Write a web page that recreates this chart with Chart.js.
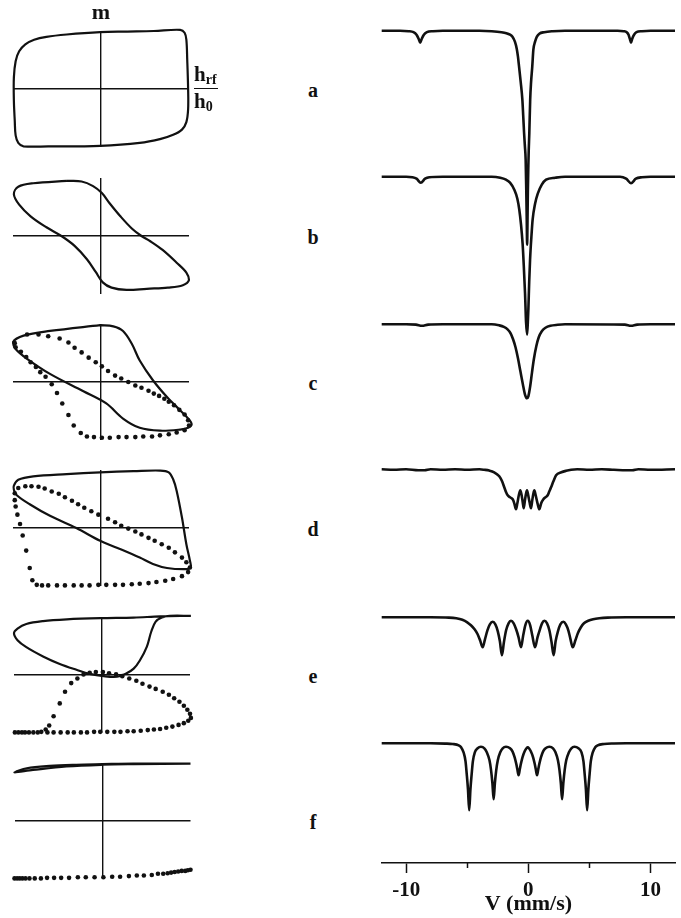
<!DOCTYPE html>
<html>
<head>
<meta charset="utf-8">
<script src="https://cdn.jsdelivr.net/npm/chart.js@4.4.1/dist/chart.umd.min.js"></script>
<style>
  html, body { margin: 0; padding: 0; background: #fff; }
  #fig { position: relative; width: 681px; height: 918px; overflow: hidden;
         font-family: 'Liberation Serif', 'Times New Roman', serif; color: #111; }
  #fig canvas { position: absolute; }
  .lbl { position: absolute; transform: translate(-50%, -50%); line-height: 1; white-space: nowrap; }
  .panel-letter { font-size: 20px; font-weight: bold; }
  .m-label { font-size: 22px; font-weight: bold; }
  .frac { position: absolute; font-size: 21px; font-weight: bold; line-height: 1; }
  .frac .num { display: block; border-bottom: 1.5px solid #111; padding: 0 1px 1px 0; }
  .frac .den { display: block; padding-top: 2px; }
  .frac sub { font-size: 14px; vertical-align: -3px; }
</style>
</head>
<body>
<div id="fig"></div>
<script>
// ---------- hysteresis loops: reduced field h_rf/h0 (x) vs reduced moment m (y) ----------
const loopA = [[0.30,0.99],[-0.01,0.98],[-0.39,0.94],[-0.62,0.90],[-0.76,0.85],[-0.86,0.77],[-0.93,0.65],[-0.97,0.48],[-0.99,0.2],[-0.99,-0.2],[-0.98,-0.55],[-0.97,-0.80],[-0.94,-0.93],[-0.88,-0.99],[-0.6,-0.99],[-0.01,-0.98],[0.44,-0.93],[0.68,-0.86],[0.82,-0.79],[0.92,-0.70],[0.97,-0.57],[0.99,-0.35],[0.99,0],[0.98,0.5],[0.97,0.85],[0.95,0.97],[0.90,1.02],[0.6,1.0],[0.30,0.99]];

const loopB = [[-0.39,0.95],[-0.77,0.91],[-0.94,0.85],[-0.99,0.72],[-0.93,0.54],[-0.80,0.34],[-0.62,0.15],[-0.45,0.0],[-0.30,-0.17],[-0.16,-0.40],[-0.06,-0.62],[0.02,-0.80],[0.12,-0.89],[0.29,-0.93],[0.52,-0.91],[0.76,-0.89],[0.93,-0.85],[1.0,-0.76],[0.97,-0.63],[0.86,-0.46],[0.70,-0.24],[0.56,-0.09],[0.46,0.0],[0.35,0.13],[0.22,0.34],[0.10,0.56],[0.01,0.74],[-0.09,0.86],[-0.22,0.94],[-0.39,0.95]];

const loopC = [[-0.01,0.98],[-0.58,0.88],[-0.88,0.80],[-1.0,0.69],[-0.97,0.57],[-0.84,0.40],[-0.58,0.14],[-0.20,-0.16],[0.06,-0.37],[0.25,-0.63],[0.44,-0.79],[0.67,-0.84],[0.90,-0.82],[0.99,-0.79],[1.03,-0.73],[0.99,-0.63],[0.90,-0.49],[0.75,-0.26],[0.59,0.03],[0.44,0.37],[0.35,0.66],[0.25,0.88],[0.14,0.96],[-0.01,0.98]];

const dotsC = [[-0.98,0.67],[-0.84,0.82],[-0.71,0.82],[-0.60,0.79],[-0.47,0.75],[-0.37,0.68],[-0.30,0.59],[-0.22,0.51],[-0.14,0.42],[-0.06,0.34],[0.01,0.27],[0.08,0.19],[0.16,0.11],[0.23,0.06],[0.31,0.0],[0.39,-0.06],[0.46,-0.10],[0.54,-0.15],[0.60,-0.20],[0.66,-0.24],[0.72,-0.29],[0.77,-0.34],[0.83,-0.40],[0.89,-0.48],[0.95,-0.56],[0.99,-0.66],[1.0,-0.75],[0.95,-0.83],[0.86,-0.87],[0.77,-0.90],[0.67,-0.92],[0.58,-0.94],[0.48,-0.94],[0.39,-0.95],[0.29,-0.95],[0.20,-0.95],[0.10,-0.96],[0.01,-0.96],[-0.08,-0.95],[-0.16,-0.94],[-0.23,-0.88],[-0.31,-0.75],[-0.37,-0.57],[-0.44,-0.37],[-0.50,-0.19],[-0.56,-0.04],[-0.63,0.09],[-0.69,0.17],[-0.74,0.26],[-0.80,0.34],[-0.85,0.43],[-0.91,0.52],[-0.97,0.60]];

const loopD = [[-0.01,0.96],[-0.39,0.93],[-0.77,0.89],[-0.94,0.83],[-0.99,0.73],[-0.99,0.66],[-0.96,0.57],[-0.81,0.41],[-0.58,0.21],[-0.28,0],[-0.01,-0.22],[0.18,-0.34],[0.44,-0.51],[0.59,-0.62],[0.75,-0.69],[0.97,-0.71],[1.02,-0.68],[1.01,-0.56],[0.97,-0.28],[0.92,0.18],[0.86,0.64],[0.82,0.84],[0.77,0.96],[0.67,0.99],[0.37,0.98],[-0.01,0.96]];

const dotsD = [[-0.98,0.60],[-0.94,0.69],[-0.86,0.72],[-0.79,0.72],[-0.71,0.71],[-0.64,0.68],[-0.56,0.63],[-0.48,0.59],[-0.41,0.53],[-0.33,0.47],[-0.26,0.41],[-0.19,0.35],[-0.11,0.29],[-0.03,0.23],[0.08,0.16],[0.16,0.10],[0.23,0.04],[0.31,-0.01],[0.39,-0.06],[0.46,-0.11],[0.54,-0.17],[0.61,-0.22],[0.69,-0.28],[0.77,-0.34],[0.84,-0.42],[0.92,-0.51],[0.97,-0.59],[1.01,-0.68],[0.99,-0.76],[0.92,-0.83],[0.82,-0.88],[0.73,-0.91],[0.63,-0.93],[0.54,-0.95],[0.44,-0.96],[0.35,-0.97],[0.25,-0.98],[0.16,-0.98],[0.06,-0.98],[-0.03,-0.98],[-0.13,-0.99],[-0.22,-0.99],[-0.31,-0.99],[-0.41,-0.99],[-0.50,-0.99],[-0.60,-0.99],[-0.67,-0.99],[-0.73,-0.98],[-0.78,-0.90],[-0.81,-0.69],[-0.85,-0.39],[-0.89,-0.13],[-0.92,0.07],[-0.95,0.23],[-0.97,0.37],[-0.98,0.48]];

const loopE = [[1.01,1.02],[0.66,1.01],[0.36,0.99],[-0.02,0.98],[-0.40,0.96],[-0.67,0.93],[-0.86,0.88],[-0.96,0.80],[-1.0,0.72],[-0.96,0.60],[-0.86,0.48],[-0.67,0.32],[-0.48,0.19],[-0.29,0.09],[-0.14,0.02],[0.02,-0.02],[0.17,-0.03],[0.27,0.02],[0.36,0.11],[0.43,0.25],[0.51,0.49],[0.56,0.75],[0.61,0.92],[0.68,0.99],[0.77,1.02],[1.01,1.02]];

const dotsE = [[-0.99,-0.99],[-0.95,-0.99],[-0.91,-0.99],[-0.875,-0.99],[-0.83,-0.99],[-0.78,-0.99],[-0.73,-0.99],[-0.69,-0.98],[-0.64,-0.94],[-0.60,-0.87],[-0.55,-0.71],[-0.48,-0.49],[-0.42,-0.29],[-0.35,-0.14],[-0.28,-0.06],[-0.21,0.01],[-0.14,0.04],[-0.07,0.05],[0.01,0.05],[0.08,0.03],[0.16,0.01],[0.23,-0.02],[0.31,-0.06],[0.39,-0.10],[0.46,-0.15],[0.54,-0.20],[0.61,-0.24],[0.69,-0.29],[0.76,-0.34],[0.82,-0.40],[0.88,-0.46],[0.93,-0.53],[0.97,-0.60],[1.0,-0.67],[1.01,-0.74],[0.98,-0.79],[0.93,-0.83],[0.87,-0.86],[0.80,-0.89],[0.73,-0.91],[0.66,-0.93],[0.59,-0.94],[0.52,-0.95],[0.44,-0.96],[0.36,-0.97],[0.29,-0.97],[0.21,-0.98],[0.14,-0.98],[0.06,-0.98],[-0.02,-0.98],[-0.09,-0.98],[-0.17,-0.99],[-0.24,-0.99],[-0.32,-0.99],[-0.39,-0.99],[-0.47,-0.99],[-0.55,-0.99],[-0.62,-0.99]];

const loopF = [[1.0,0.99],[0.35,0.99],[0,0.98],[-0.30,0.97],[-0.60,0.95],[-0.86,0.91],[-1.0,0.84],[-0.79,0.88],[-0.41,0.94],[0,0.97],[0.35,0.98],[1.0,0.99]];

const dotsF = [[-1.0,-0.99],[-0.97,-0.99],[-0.94,-0.99],[-0.91,-0.99],[-0.875,-0.99],[-0.83,-0.99],[-0.77,-0.99],[-0.70,-0.99],[-0.63,-0.98],[-0.55,-0.98],[-0.47,-0.98],[-0.38,-0.98],[-0.28,-0.97],[-0.19,-0.97],[-0.09,-0.97],[0.01,-0.97],[0.11,-0.96],[0.20,-0.96],[0.30,-0.95],[0.39,-0.94],[0.47,-0.94],[0.56,-0.93],[0.63,-0.91],[0.69,-0.91],[0.74,-0.90],[0.78,-0.89],[0.82,-0.88],[0.86,-0.87],[0.90,-0.86],[0.94,-0.86],[0.97,-0.85],[1.0,-0.84]];

// ---------- Mössbauer spectra: velocity (mm/s) vs absorption (arb. units) ----------
const spectrumA = [[-12,0],[-10.5,0],[-9.8,0.5],[-9.4,1.5],[-9.15,4],[-8.98,8],[-8.85,12],[-8.72,8],[-8.55,4],[-8.3,1.5],[-7.8,0.5],[-7,0],[-4,0],[-3,0.5],[-2.2,1.5],[-1.8,2.5],[-1.5,4],[-1.3,6],[-1.1,11],[-0.95,18],[-0.85,26],[-0.76,36],[-0.62,52],[-0.49,69],[-0.42,85],[-0.35,102],[-0.28,116],[-0.22,129],[-0.17,160],[-0.13,190],[-0.1,214],[-0.07,190],[-0.04,160],[0.0,135],[0.03,120],[0.08,102],[0.15,69],[0.22,52],[0.32,36],[0.41,19],[0.55,11],[0.7,6],[0.9,3],[1.3,1.5],[2,0.5],[3,0],[7.3,0],[7.8,0.5],[8.05,1.5],[8.2,4],[8.3,8],[8.4,12],[8.5,8],[8.65,4],[8.85,1.5],[9.3,0.5],[10,0],[12,0]];

const spectrumB = [[-12,0],[-10,0],[-9.5,0.5],[-9.15,2],[-8.8,6],[-8.45,2],[-8.1,0.5],[-7,0],[-3,0],[-2.3,1],[-1.83,3],[-1.5,6],[-1.15,13],[-0.9,22],[-0.74,33],[-0.6,48],[-0.47,67],[-0.37,90],[-0.27,117],[-0.19,145],[-0.1,158],[-0.03,142],[0.0,133],[0.07,105],[0.14,83],[0.25,60],[0.35,43],[0.55,27],[0.77,17],[1.1,8],[1.45,3],[2.2,1],[3,0],[7.5,0],[8.0,2],[8.4,6.5],[8.8,2],[9.3,0.5],[10,0],[12,0]];

const spectrumC = [[-12,0],[-10,0],[-9.2,0.3],[-8.7,1.5],[-8.2,0.3],[-7,0],[-3,0],[-2.4,1],[-2.0,2.5],[-1.7,5],[-1.45,9],[-1.25,15],[-1.05,23],[-0.85,34],[-0.65,47],[-0.45,60],[-0.28,70],[-0.12,74],[0.0,72],[0.15,62],[0.3,48],[0.45,35],[0.65,22],[0.85,13],[1.1,7],[1.4,3.5],[1.8,1.5],[2.4,0.5],[3,0],[7.9,0.3],[8.4,1.5],[8.9,0.3],[10,0],[12,0]];

const spectrumD = [[-12,0],[-11,0.5],[-10,0],[-9,1],[-8.5,1],[-8,0],[-7,0.5],[-6,0],[-5,0.5],[-4,0],[-3.6,0.5],[-3.2,1.3],[-2.8,3],[-2.38,7],[-2.15,12],[-1.97,18],[-1.82,23],[-1.69,26],[-1.5,28],[-1.28,30],[-1.15,34],[-1.01,40],[-0.9,34],[-0.78,26],[-0.66,21],[-0.55,26],[-0.46,33],[-0.38,39],[-0.28,31],[-0.2,25],[-0.11,21],[-0.01,26],[0.1,33],[0.22,39],[0.32,31],[0.4,25],[0.49,21],[0.6,26],[0.75,34],[0.9,40],[1.05,34],[1.23,30],[1.4,28],[1.58,26],[1.72,22],[1.86,18],[2.05,12],[2.27,6],[2.7,3],[3.09,1.5],[3.5,0.5],[4,0],[5,0.5],[6,0],[7,0.5],[8,1],[8.5,1],[9,0],[10,0.5],[12,0]];

const spectrumE = [[-12,0],[-8,0],[-6.5,0.3],[-5.9,1],[-5.4,2.5],[-5.0,5],[-4.7,8],[-4.4,12],[-4.15,17],[-3.95,23],[-3.74,30],[-3.55,22],[-3.35,13],[-3.15,7],[-2.92,4.5],[-2.7,7],[-2.5,14],[-2.33,24],[-2.16,38],[-2.0,25],[-1.82,13],[-1.62,6],[-1.42,3.5],[-1.2,6],[-1.0,12],[-0.8,20],[-0.6,30],[-0.42,18],[-0.25,8],[-0.05,3.5],[0.15,8],[0.32,18],[0.55,30],[0.75,20],[0.95,12],[1.12,6],[1.31,3.5],[1.53,6],[1.72,13],[1.9,25],[2.07,38],[2.23,24],[2.42,14],[2.62,7],[2.87,4.5],[3.07,7],[3.27,13],[3.45,22],[3.63,30],[3.85,23],[4.05,16],[4.3,10],[4.55,6],[4.9,3.5],[5.3,2],[5.8,1],[6.5,0.3],[8,0],[12,0]];

const spectrumF = [[-12,0],[-8,0],[-6.8,0.3],[-6.2,0.7],[-5.7,2],[-5.5,4],[-5.3,9],[-5.14,18],[-5.04,31],[-4.94,46],[-4.84,67],[-4.74,46],[-4.64,31],[-4.54,18],[-4.38,9],[-4.15,5],[-3.88,3.5],[-3.6,5],[-3.4,9],[-3.18,17],[-3.05,27],[-2.94,40],[-2.84,56],[-2.74,40],[-2.63,27],[-2.5,17],[-2.3,9],[-2.1,5],[-1.83,3.5],[-1.5,5],[-1.3,8],[-1.12,14],[-1.0,20],[-0.9,26],[-0.8,32],[-0.7,26],[-0.6,20],[-0.48,14],[-0.3,8],[-0.15,5],[-0.05,4],[0.05,5],[0.2,8],[0.39,14],[0.51,20],[0.61,26],[0.71,32],[0.81,26],[0.91,20],[1.03,14],[1.21,8],[1.41,5],[1.72,3.5],[2.02,5],[2.22,9],[2.42,17],[2.55,27],[2.66,40],[2.76,56],[2.86,40],[2.97,27],[3.1,17],[3.32,9],[3.52,5],[3.77,3.5],[4.1,5],[4.35,9],[4.51,18],[4.61,31],[4.71,46],[4.81,67],[4.91,46],[5.01,31],[5.11,18],[5.27,9],[5.47,4],[5.67,2],[6.2,0.7],[7,0.2],[8,0],[12,0]];

const panelLetters = ['a', 'b', 'c', 'd', 'e', 'f'];
const velocityTicks = [-10, 0, 10];
const velocityMinorTicks = [-5, 5];

// ---------- layout ----------
const INK = '#111';
const SERIF = "'Liberation Serif', 'Times New Roman', serif";
const LOOP_CX = [101, 101, 101, 101, 102, 102.5];       // pixel centre of each loop's axes
const LOOP_CY = [89, 236, 381.5, 527.5, 675, 821];
const LOOP_HALF_W = 88, LOOP_HALF_H = 58;
const SPEC_BASE = [832.3, 686.3, 538.7, 393.7, 245.7, 119.7]; // baseline of each trace on the stacked axis
const LETTER_X = 313;

const fig = document.getElementById('fig');

function addCanvas(left, top, w, h) {
  const c = document.createElement('canvas');
  c.width = w; c.height = h;
  c.style.left = left + 'px'; c.style.top = top + 'px';
  c.style.width = w + 'px'; c.style.height = h + 'px';
  fig.appendChild(c);
  return c;
}

function addLabel(cls, html, x, y) {
  const d = document.createElement('div');
  d.className = 'lbl ' + cls;
  d.innerHTML = html;
  d.style.left = x + 'px'; d.style.top = y + 'px';
  fig.appendChild(d);
  return d;
}

const toXY = arr => arr.map(([x, y]) => ({ x, y }));

// one axis line through zero, drawn as the single grid line of the scale
function zeroAxis() {
  return {
    type: 'linear', min: -1, max: 1,
    afterBuildTicks: a => { a.ticks = [{ value: 0 }]; },
    ticks: { display: false },
    border: { display: false },
    grid: { drawTicks: false, color: INK, lineWidth: 1.4 }
  };
}

function loopChart(i, solid, dots) {
  const W = 215, H = 150;
  const cx = LOOP_CX[i], cy = LOOP_CY[i];
  const canvas = addCanvas(0, cy - H / 2, W, H);
  const datasets = [];
  if (solid) datasets.push({
    data: toXY(solid), showLine: true, borderColor: INK, borderWidth: 2.2,
    pointRadius: 0, tension: 0.35, clip: false, fill: false
  });
  if (dots) datasets.push({
    data: toXY(dots), showLine: false, pointRadius: 2.3, pointStyle: 'circle',
    pointBackgroundColor: INK, pointBorderColor: INK, pointBorderWidth: 0, clip: false
  });
  new Chart(canvas, {
    type: 'scatter',
    data: { datasets },
    options: {
      responsive: false, animation: false, devicePixelRatio: 1, events: [],
      layout: { padding: { left: cx - LOOP_HALF_W, right: W - (cx + LOOP_HALF_W),
                           top: H / 2 - LOOP_HALF_H, bottom: H / 2 - LOOP_HALF_H } },
      plugins: { legend: { display: false }, tooltip: { enabled: false } },
      scales: { x: zeroAxis(), y: zeroAxis() }
    }
  });
}

loopChart(0, loopA, null);
loopChart(1, loopB, null);
loopChart(2, loopC, dotsC);
loopChart(3, loopD, dotsD);
loopChart(4, loopE, dotsE);
loopChart(5, loopF, dotsF);

// ---------- stacked spectra ----------
const spectra = [spectrumA, spectrumB, spectrumC, spectrumD, spectrumE, spectrumF];

const minorTickPlugin = {
  id: 'minorTicks',
  afterDraw(chart) {
    const s = chart.scales.x, ctx = chart.ctx;
    ctx.save();
    ctx.strokeStyle = INK; ctx.lineWidth = 1.5;
    velocityMinorTicks.forEach(v => {
      const px = Math.round(s.getPixelForValue(v)) + 0.5;
      ctx.beginPath(); ctx.moveTo(px, s.top); ctx.lineTo(px, s.top + 5); ctx.stroke();
    });
    ctx.restore();
  }
};

const specCanvas = addCanvas(360, 0, 321, 918);
new Chart(specCanvas, {
  type: 'line',
  data: {
    datasets: spectra.map((s, i) => ({
      data: s.map(([v, a]) => ({ x: v, y: SPEC_BASE[i] - a })),
      borderColor: INK, borderWidth: 2.6, pointRadius: 0,
      cubicInterpolationMode: 'monotone', fill: false, clip: false
    }))
  },
  options: {
    responsive: false, animation: false, devicePixelRatio: 1, events: [],
    layout: { padding: { left: 21.7, right: 6, top: 0, bottom: 0 } },
    plugins: { legend: { display: false }, tooltip: { enabled: false } },
    scales: {
      x: {
        type: 'linear', min: -12, max: 12,
        afterBuildTicks: a => { a.ticks = velocityTicks.map(v => ({ value: v })); },
        afterFit: s => { s.height = 55; },
        ticks: { color: INK, font: { family: SERIF, size: 21, weight: 'bold' },
                 padding: 5, maxRotation: 0, autoSkip: false,
                 callback: v => String(v) },
        grid: { drawOnChartArea: false, drawTicks: true, tickLength: 10,
                tickWidth: 1.5, tickColor: INK },
        border: { display: true, color: INK, width: 1.5 },
        title: { display: true, text: 'V (mm/s)', color: INK,
                 font: { family: SERIF, size: 22, weight: 'bold' },
                 padding: { top: 0, bottom: 0 } }
      },
      y: { type: 'linear', display: false, min: 0, max: 863 }
    }
  },
  plugins: [minorTickPlugin]
});

// ---------- text ----------
addLabel('m-label', 'm', 101, 12);
panelLetters.forEach((t, i) => addLabel('panel-letter', t, LETTER_X, LOOP_CY[i] + 1));

const frac = document.createElement('div');
frac.className = 'frac';
frac.innerHTML = '<span class="num">h<sub>rf</sub></span><span class="den">h<sub>0</sub></span>';
frac.style.left = '194px'; frac.style.top = '64px';
fig.appendChild(frac);
</script>
</body>
</html>
